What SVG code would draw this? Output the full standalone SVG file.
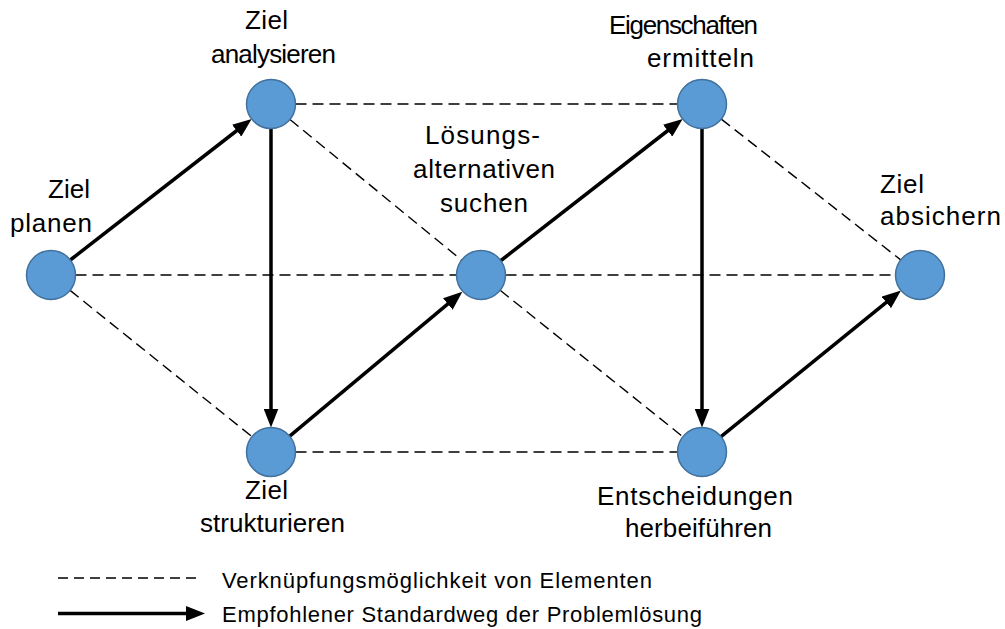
<svg xmlns="http://www.w3.org/2000/svg" width="1005" height="629" viewBox="0 0 1005 629">
  <style>
    .node circle { fill: #5B9BD5; stroke: #41719C; stroke-width: 1.5; }
    .label { font-family: "Liberation Sans", Arial, sans-serif; font-size: 26px; fill: #000; }
    .legend { font-family: "Liberation Sans", Arial, sans-serif; font-size: 22px; fill: #000; }
    .link { stroke: #000; stroke-width: 1.4; stroke-dasharray: 11 6; fill: none; }
    .path { stroke: #000; stroke-width: 3.5; fill: none; marker-end: url(#head); }
  </style>
  <defs>
    <marker id="head" markerUnits="userSpaceOnUse" markerWidth="19" markerHeight="15" refX="6" refY="7.5" orient="auto">
      <path d="M0,0 L19,7.5 L0,15 z" fill="#000"/>
    </marker>
  </defs>
  <rect width="1005" height="629" fill="#fff"/>

  <!-- connectors -->
  <g id="connectors">
    <!-- possible links between elements -->
    <line class="link" x1="295.5" y1="104" x2="677.5" y2="104"/>
    <line class="link" x1="290" y1="119.5" x2="462" y2="260.5"/>
    <line class="link" x1="75.5" y1="275" x2="456.5" y2="275"/>
    <line class="link" x1="505.5" y1="275" x2="895.5" y2="275"/>
    <line class="link" x1="70.1" y1="290.4" x2="251.9" y2="436.6"/>
    <line class="link" x1="295.5" y1="452" x2="677.5" y2="452"/>
    <line class="link" x1="500.2" y1="290.3" x2="682.8" y2="436.7"/>
    <line class="link" x1="721.3" y1="119.1" x2="900.7" y2="259.9"/>
    <!-- recommended standard path -->
    <line class="path" x1="70.3" y1="260" x2="241.4" y2="127"/>
    <line class="path" x1="271" y1="128.5" x2="271" y2="414.5"/>
    <line class="path" x1="289.7" y1="436.2" x2="452.4" y2="300.2"/>
    <line class="path" x1="500.3" y1="261" x2="672.4" y2="127"/>
    <line class="path" x1="702" y1="128.5" x2="702" y2="414.5"/>
    <line class="path" x1="721" y1="436.6" x2="890.9" y2="298.6"/>
  </g>

  <g id="ziel-planen" class="node">
    <circle cx="51" cy="275" r="24.5"/>
    <text class="label" x="48" y="198" textLength="42" lengthAdjust="spacing">Ziel</text>
    <text class="label" x="10" y="232" textLength="82" lengthAdjust="spacing">planen</text>
  </g>

  <g id="ziel-analysieren" class="node">
    <circle cx="271" cy="104" r="24.5"/>
    <text class="label" x="245" y="29" textLength="43" lengthAdjust="spacing">Ziel</text>
    <text class="label" x="211" y="63" textLength="125" lengthAdjust="spacing">analysieren</text>
  </g>

  <g id="ziel-strukturieren" class="node">
    <circle cx="271" cy="452" r="24.5"/>
    <text class="label" x="245" y="499" textLength="43" lengthAdjust="spacing">Ziel</text>
    <text class="label" x="200" y="532" textLength="145" lengthAdjust="spacing">strukturieren</text>
  </g>

  <g id="loesungsalternativen-suchen" class="node">
    <circle cx="481" cy="275" r="24.5"/>
    <text class="label" x="425" y="144" textLength="115" lengthAdjust="spacing">Lösungs-</text>
    <text class="label" x="413" y="178" textLength="142" lengthAdjust="spacing">alternativen</text>
    <text class="label" x="440" y="212" textLength="88" lengthAdjust="spacing">suchen</text>
  </g>

  <g id="eigenschaften-ermitteln" class="node">
    <circle cx="702" cy="104" r="24.5"/>
    <text class="label" x="609" y="34" textLength="149" lengthAdjust="spacing">Eigenschaften</text>
    <text class="label" x="647" y="67" textLength="107" lengthAdjust="spacing">ermitteln</text>
  </g>

  <g id="entscheidungen-herbeifuehren" class="node">
    <circle cx="702" cy="452" r="24.5"/>
    <text class="label" x="597" y="505" textLength="196" lengthAdjust="spacing">Entscheidungen</text>
    <text class="label" x="625" y="537" textLength="147" lengthAdjust="spacing">herbeiführen</text>
  </g>

  <g id="ziel-absichern" class="node">
    <circle cx="920" cy="275" r="24.5"/>
    <text class="label" x="880" y="193" textLength="44" lengthAdjust="spacing">Ziel</text>
    <text class="label" x="880" y="225" textLength="121" lengthAdjust="spacing">absichern</text>
  </g>

  <!-- legend -->
  <g id="legend">
    <line stroke="#000" stroke-width="1.4" stroke-dasharray="10 6" x1="58" y1="578" x2="196" y2="578"/>
    <text class="legend" x="222" y="588" textLength="430" lengthAdjust="spacing">Verknüpfungsmöglichkeit von Elementen</text>
    <line class="path" x1="58" y1="613.5" x2="192" y2="613.5"/>
    <text class="legend" x="222" y="622" textLength="480" lengthAdjust="spacing">Empfohlener Standardweg der Problemlösung</text>
  </g>
</svg>
